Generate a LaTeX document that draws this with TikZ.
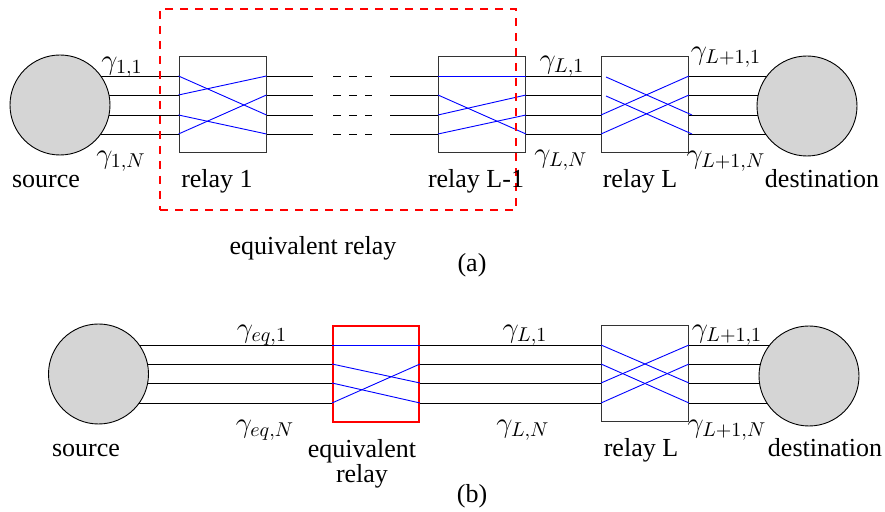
\documentclass[tikz,border=0pt]{standalone}
\usepackage[no-math]{fontspec}
\setmainfont{Liberation Serif}
\usetikzlibrary{backgrounds}
\begin{document}
\begin{tikzpicture}[x=0.5pt,y=-0.5pt,
  every node/.style={font=\fontsize{13}{12.5}\selectfont},
  ch/.style={draw=black, line width=0.45pt},
  xl/.style={draw=blue, line width=0.45pt},
  relaybox/.style={draw=black!80, fill=white, line width=0.5pt, rectangle,
    minimum width=43.5pt, minimum height=48pt, inner sep=0pt},
  endpt/.style={draw=black, fill=gray!33, circle, minimum size=50pt,
    inner sep=0pt, line width=0.45pt},
  lbl/.style={anchor=base, inner sep=0pt},
  ml/.style={inner sep=0pt, font=\fontsize{14.3}{15}\selectfont},
  reddash/.style={draw=red, line width=1pt, dash pattern=on 4pt off 3.5pt,
    rectangle, inner sep=0pt}]
\useasboundingbox (0,0) rectangle (885,512);

% ---------------- (a) ----------------
\node[endpt] (srcA) at (60,105) {};
\node[relaybox] (r1) at (222.5,105) {};
\node[relaybox] (rl1) at (482,105) {};
\node[relaybox] (rLA) at (645,105) {};
\node[endpt] (dstA) at (807,106) {};
\coordinate (gapL) at (313,105);
\coordinate (dashL) at (333,105);
\coordinate (dashR) at (372,105);
\coordinate (gapR) at (390,105);

\begin{pgfonlayer}{background}
\foreach \y in {76,95,115,134} {
  \draw[ch] (srcA.center |- 0,\y) -- (r1.west |- 0,\y);
  \draw[ch] (r1.east |- 0,\y) -- (gapL |- 0,\y);
  \draw[ch, dash pattern=on 4pt off 4pt] (dashL |- 0,\y) -- (dashR |- 0,\y);
  \draw[ch] (gapR |- 0,\y) -- (rl1.west |- 0,\y);
  \draw[ch] (rl1.east |- 0,\y) -- (rLA.west |- 0,\y);
  \draw[ch] (rLA.east |- 0,\y) -- (dstA.center |- 0,\y);
}
\end{pgfonlayer}

% relay 1 crossings
\draw[xl] (r1.west |- 0,76) -- (r1.east |- 0,115);
\draw[xl] (r1.west |- 0,95) -- (r1.east |- 0,76);
\draw[xl] (r1.west |- 0,115) -- (r1.east |- 0,134);
\draw[xl] (r1.west |- 0,134) -- (r1.east |- 0,95);
% relay L-1 crossings
\draw[xl] (rl1.west |- 0,76) -- (rl1.east |- 0,76);
\draw[xl] (rl1.west |- 0,95) -- (rl1.east |- 0,134);
\draw[xl] (rl1.west |- 0,115) -- (rl1.east |- 0,95);
\draw[xl] (rl1.west |- 0,134) -- (rl1.east |- 0,115);
% relay L crossings
\draw[xl] ([xshift=2.5pt]rLA.west |- 0,77) -- ([xshift=1.5pt]rLA.east |- 0,115);
\draw[xl] ([xshift=2.5pt]rLA.west |- 0,96) -- ([xshift=1.5pt]rLA.east |- 0,134);
\draw[xl] (rLA.west |- 0,115) -- (rLA.east |- 0,76);
\draw[xl] (rLA.west |- 0,134) -- (rLA.east |- 0,95);

\node[reddash, minimum width=178pt, minimum height=100.5pt] (eqA) at (338,109.5) {};

\node[ml] (g11) at (122,67) {$\gamma_{1,1}$};
\node[ml] (g1N) at (121,161) {$\gamma_{1,N}$};
\node[ml] (gL1a) at (562,66) {$\gamma_{L,1}$};
\node[ml] (gLNa) at (561,160) {$\gamma_{L,N}$};
\node[ml] (gLp1a) at (726,57) {$\gamma_{L+1,1}$};
\node[ml] (gLpNa) at (726,161) {$\gamma_{L+1,N}$};

\node[lbl] (tsrcA) at (46,188) {source};
\node[lbl] (tr1) at (217,188) {relay 1};
\node[lbl] (trl1) at (476,188) {relay L-1};
\node[lbl] (trLA) at (640,188) {relay L};
\node[lbl] (tdstA) at (822,188) {destination};
\node[lbl] (teqA) at (313,255) {equivalent relay};
\node[lbl] (capA) at (472,272) {(a)};

% ---------------- (b) ----------------
\node[endpt] (srcB) at (98.5,374) {};
\node[relaybox, draw=red, line width=1pt, minimum width=43pt] (eqB) at (376,374) {};
\node[relaybox] (rLB) at (645,374) {};
\node[endpt] (dstB) at (809,376) {};

\begin{pgfonlayer}{background}
\foreach \y in {345,364,383,403} {
  \draw[ch] (srcB.center |- 0,\y) -- (eqB.west |- 0,\y);
  \draw[ch] (eqB.east |- 0,\y) -- (rLB.west |- 0,\y);
  \draw[ch] (rLB.east |- 0,\y) -- (dstB.center |- 0,\y);
}
\end{pgfonlayer}

% equivalent relay crossings
\draw[xl] (eqB.west |- 0,345) -- (eqB.east |- 0,345);
\draw[xl] (eqB.west |- 0,364) -- (eqB.east |- 0,383);
\draw[xl] (eqB.west |- 0,383) -- (eqB.east |- 0,403);
\draw[xl] (eqB.west |- 0,403) -- (eqB.east |- 0,364);
% relay L crossings
\draw[xl] (rLB.west |- 0,345) -- (rLB.east |- 0,383);
\draw[xl] (rLB.west |- 0,364) -- (rLB.east |- 0,403);
\draw[xl] (rLB.west |- 0,383) -- (rLB.east |- 0,345);
\draw[xl] (rLB.west |- 0,403) -- (rLB.east |- 0,364);

\node[ml] (geq1) at (262,335) {$\gamma_{eq,1}$};
\node[ml] (geqN) at (265,430) {$\gamma_{eq,N}$};
\node[ml] (gL1b) at (525,335) {$\gamma_{L,1}$};
\node[ml] (gLNb) at (523,430) {$\gamma_{L,N}$};
\node[ml] (gLp1b) at (727,335) {$\gamma_{L+1,1}$};
\node[ml] (gLpNb) at (727,430) {$\gamma_{L+1,N}$};

\node[lbl] (tsrcB) at (86,457) {source};
\node[inner sep=0pt, align=center] (teqB) at (362,463.5) {equivalent\\relay};
\node[lbl] (trLB) at (641,457) {relay L};
\node[lbl] (tdstB) at (825,457) {destination};
\node[lbl] (capB) at (472,503) {(b)};
\end{tikzpicture}
\end{document}
